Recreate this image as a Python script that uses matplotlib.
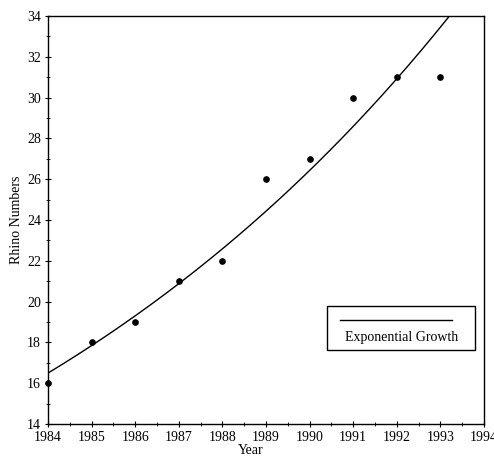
import numpy as np
import matplotlib
matplotlib.use("Agg")
import matplotlib.pyplot as plt
from matplotlib.patches import Rectangle
from matplotlib.lines import Line2D

years = [1984, 1985, 1986, 1987, 1988, 1989, 1990, 1991, 1992, 1993]
rhinos = [16, 18, 19, 21, 22, 26, 27, 30, 31, 31]
x_ticks = list(range(1984, 1995))
y_ticks = list(range(14, 35, 2))

# exponential fit via log-linear least squares
yr = np.array(years) - years[0]
k, ln_a = np.polyfit(yr, np.log(rhinos), 1)
t = np.linspace(0, 10, 300)
fit = np.exp(ln_a) * np.exp(k * t)

plt.rcParams["font.family"] = ["Liberation Serif", "DejaVu Serif"]
fig = plt.figure(figsize=(4.94, 4.62), dpi=100)
ax = fig.add_axes([0.0972, 0.0823, 0.8826, 0.8831])

ax.plot(t + years[0], fit, color="black", lw=1.0)
ax.plot(years, rhinos, "o", color="black", ms=3.8, clip_on=False)

ax.set_xlim(1984, 1994)
ax.set_ylim(14, 34)
ax.set_xticks(x_ticks)
ax.set_yticks(y_ticks)
ax.set_yticks(np.arange(14, 34.1, 1), minor=True)
ax.set_xticks(np.arange(1984, 1994.1, 0.5), minor=True)
ax.tick_params(which="major", direction="inout", length=5, width=0.8,
               labelsize=10, pad=2.5)
ax.tick_params(which="minor", direction="inout", length=2.5, width=0.6)
for s in ax.spines.values():
    s.set_linewidth(1.0)

ax.set_ylabel("Rhino Numbers", fontsize=10, labelpad=3)
ax.text(0.465, -0.05, "Year", transform=ax.transAxes, ha="center", va="top",
        fontsize=10)

# legend box with the line drawn above the label
ax.add_patch(Rectangle((0.640, 0.181), 0.340, 0.108, transform=ax.transAxes,
                       fill=False, edgecolor="black", lw=1.0))
ax.add_line(Line2D([0.670, 0.927], [0.255, 0.255], transform=ax.transAxes,
                   color="black", lw=1.0))
ax.text(0.810, 0.213, "Exponential Growth", transform=ax.transAxes,
        ha="center", va="center", fontsize=10)

fig.savefig("out.png", dpi=100)
